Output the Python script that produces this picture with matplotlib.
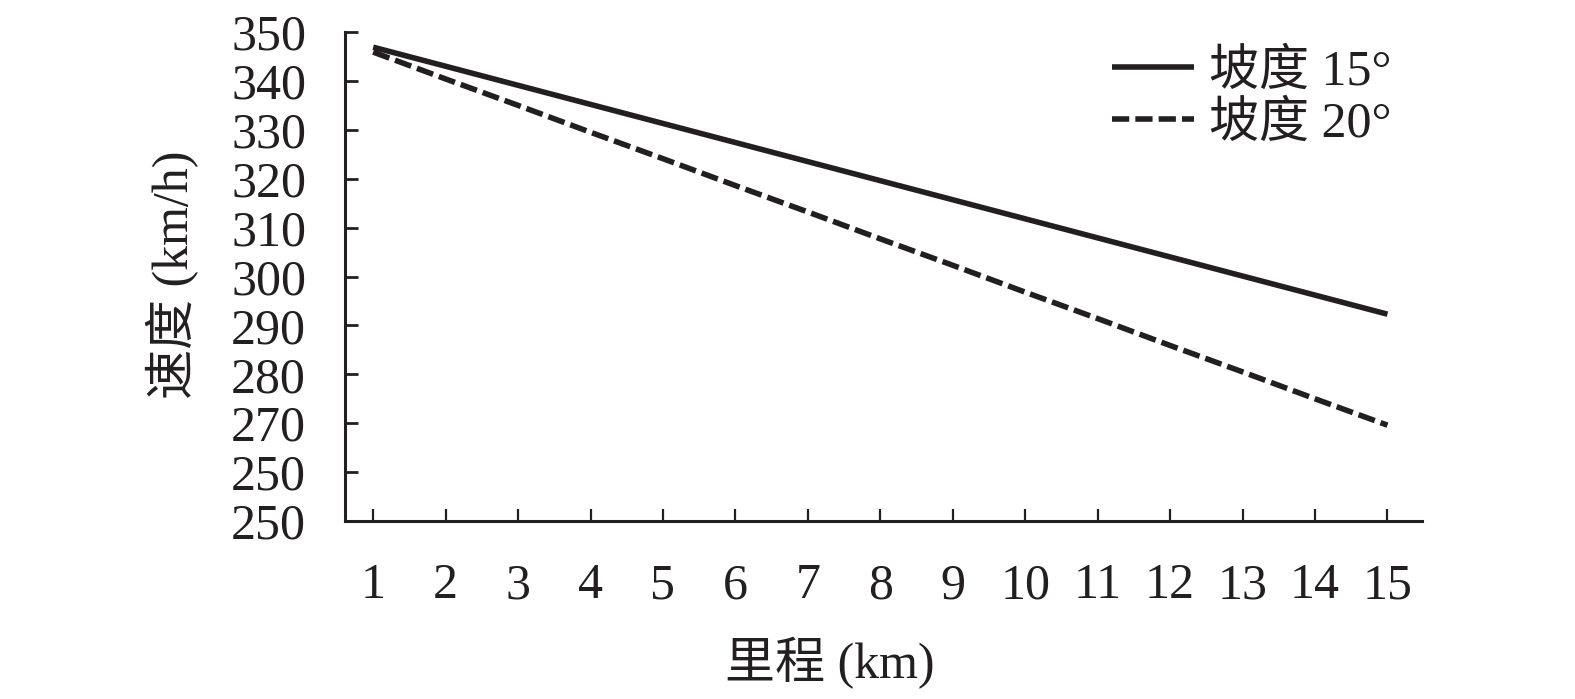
import numpy as np
import matplotlib
matplotlib.use("Agg")
import matplotlib.pyplot as plt

plt.rcParams['font.family'] = ['Liberation Serif', 'Noto Sans CJK SC']
plt.rcParams['axes.unicode_minus'] = False

km = [1, 2, 3, 4, 5, 6, 7, 8, 9, 10, 11, 12, 13, 14, 15]
speed_15 = [346.9, 343.0, 339.1, 335.2, 331.3, 327.4, 323.5, 319.6,
            315.7, 311.8, 307.9, 304.0, 300.1, 296.2, 292.3]
speed_20 = [345.9, 340.4, 335.0, 329.5, 324.1, 318.6, 313.2, 307.7,
            302.3, 296.8, 291.4, 285.9, 280.5, 275.0, 269.6]
ytick_pos = [250, 260, 270, 280, 290, 300, 310, 320, 330, 340, 350]
ytick_labels = ["250", "250", "270", "280", "290", "300", "310", "320", "330", "340", "350"]

ink = "#231f20"

fig = plt.figure(figsize=(15.75, 6.99), dpi=100)
ax = fig.add_axes([0.219, 0.2546, 0.684, 0.6996])

ax.plot(km, speed_15, color=ink, lw=4, solid_capstyle="butt", label="坡度 15°")
ax.plot(km, speed_20, color=ink, lw=4, linestyle=(0, (3.1, 1.1)),
        dash_capstyle="butt", label="坡度 20°")

ax.set_xlim(0.61, 15.48)
ax.set_ylim(250, 350)
ax.set_xticks(km)
ax.set_xticklabels([str(k) for k in km])
ax.set_yticks(ytick_pos)
ax.set_yticklabels(ytick_labels)

for s in ["top", "right"]:
    ax.spines[s].set_visible(False)
for s in ["left", "bottom"]:
    ax.spines[s].set_linewidth(2.2)
    ax.spines[s].set_color(ink)

ax.tick_params(axis="y", direction="in", length=9.5, width=2, color=ink,
               pad=28, labelsize=36, labelcolor=ink)
ax.tick_params(axis="x", direction="in", length=9, width=1.6, color=ink,
               pad=30, labelsize=36, labelcolor=ink)

ax.set_xlabel("里程 (km)", fontsize=36, color=ink)
ax.xaxis.set_label_coords(0.45, -0.29)
ax.xaxis.label.set_verticalalignment("center")
ax.set_ylabel("速度 (km/h)", fontsize=36, color=ink)
ax.yaxis.set_label_coords(-0.16, 0.503)
ax.yaxis.label.set_verticalalignment("center")

ax.legend(loc="upper left", bbox_to_anchor=(0.706, 0.93), bbox_transform=fig.transFigure,
          frameon=False, fontsize=36, handlelength=1.65, handletextpad=0.3,
          labelspacing=0.12, borderpad=0, borderaxespad=0, labelcolor=ink)

fig.savefig("out.png", dpi=100)
